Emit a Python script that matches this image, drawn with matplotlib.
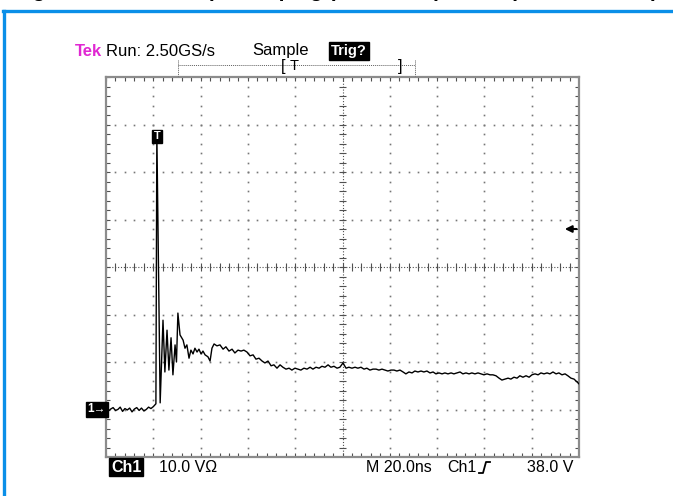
import matplotlib.pyplot as plt
import numpy as np
from matplotlib.lines import Line2D

# scope settings (from the screen readout)
ns_per_div = 20.0
volts_per_div = 10.0
trigger_level = 38.0
ground_level = 0.0

# captured trace, time in ns from left edge, voltage in V
t_ns = [0, 1, 2, 3, 4, 5, 6, 7, 8, 9, 10, 11, 12, 13, 14, 15, 16, 17, 18, 19,
        20.0, 20.7, 21.1, 21.5, 22.9, 24.1, 24.9, 25.8, 26.6, 27.5, 28.3, 29.2,
        29.8, 30.4, 31.3, 32.6, 33.4, 34.2, 35.1, 35.9, 36.8, 37.6, 38.5, 39.3,
        40.2, 41.0, 41.9, 43.1, 44.0, 44.8, 45.7, 46.9, 48.2, 49.5, 50.7, 52.0,
        53.3, 54.5, 55.8, 57.1, 58.3, 59.6, 60.9, 62.2, 63.4, 64.7, 66.0, 67.2,
        68.5, 69.8, 71.0, 72.3, 73.6, 74.8, 76.1, 77.4, 78.6, 79.9, 81.2, 82.4,
        83.7, 85.0, 86.3, 87.5, 88.8, 90.1, 91.3, 92.6, 93.9, 95.1, 96.4, 97.7,
        98.9, 100.2, 101.5, 102.7, 104.0, 105.3, 106.5, 107.8, 109.1, 110.3,
        111.6, 112.9, 114.2, 115.4, 116.7, 118.0, 119.2, 120.5, 121.8, 123.0,
        124.3, 125.6, 126.8, 128.1, 129.4, 130.6, 131.9, 133.2, 134.4, 135.7,
        137.0, 138.3, 139.5, 140.8, 142.1, 143.3, 144.6, 145.9, 147.1, 148.4,
        149.7, 150.9, 152.2, 153.5, 154.7, 156.0, 157.3, 158.6, 159.8, 161.1,
        162.4, 163.6, 164.9, 166.2, 167.4, 168.7, 170.0, 171.2, 172.5, 173.8,
        175.0, 176.3, 177.6, 178.9, 180.1, 181.4, 182.7, 183.9, 185.2, 186.5,
        187.7, 189.0, 190.3, 191.5, 192.8, 194.1, 195.3, 196.6, 197.9, 199.2,
        200.0]
v_volts = [0.2, -0.3, 0.1, 0.4, -0.2, 0.0, 0.5, -0.4, 0.2, -0.1, 0.3, -0.5, 0.1,
           0.4, -0.2, 0.3, -0.3, 0.0, 0.5, 0.2,
           0.6, 1.0, 1.2, 58.0, 1.4, 18.8, 7.9, 16.7, 8.3, 15.1, 7.3, 13.6,
           10.0, 20.3, 15.7, 14.6, 12.9, 13.6, 10.8, 12.5, 11.7, 12.9, 12.1, 12.7,
           11.7, 12.3, 11.5, 11.1, 10.2, 12.9, 13.8, 13.4, 13.6, 12.7, 13.2, 12.3,
           12.7, 11.9, 12.5, 12.3, 12.5, 12.1, 11.3, 11.5, 10.6, 10.8, 10.2, 9.8,
           10.2, 9.2, 9.4, 8.7, 9.4, 8.9, 8.5, 8.7, 8.3, 8.7, 8.5, 8.3,
           8.7, 8.5, 8.9, 8.5, 8.9, 8.7, 9.1, 8.9, 9.4, 8.9, 9.1, 8.7,
           8.9, 9.8, 8.7, 8.9, 8.7, 8.9, 8.7, 8.9, 8.5, 8.7,
           8.3, 8.5, 8.5, 8.3, 8.5, 8.3, 8.1, 8.3, 8.3, 8.1,
           8.3, 7.9, 7.5, 7.9, 7.7, 8.1, 7.9, 8.1, 7.9, 8.1,
           7.7, 7.9, 7.5, 7.7, 7.5, 7.7, 7.5, 7.7, 7.5, 7.7,
           7.9, 7.5, 7.7, 7.5, 7.7, 7.5, 7.7, 7.5, 7.3, 7.5,
           7.3, 7.3, 7.1, 6.6, 6.2, 6.4, 6.6, 6.4, 6.8, 6.6,
           7.1, 6.8, 7.1, 6.8, 7.3, 7.5, 7.3, 7.7, 7.5, 7.7,
           7.5, 7.9, 7.5, 7.7, 7.3, 7.5, 7.1, 6.6, 6.4, 5.8,
           5.4]

header = ['Tek', 'Run: 2.50GS/s', 'Sample', 'Trig?']
footer = ['Ch1', '10.0 V\u03a9', 'M 20.0ns', 'Ch1', '38.0 V']

W, H = 673, 496


def fx(x):
    return x / W


def fy(y):
    return 1 - y / H


plt.rcParams['font.family'] = ['Liberation Sans', 'DejaVu Sans']
fig = plt.figure(figsize=(W / 100, H / 100), dpi=100)

# screen
ax = fig.add_axes([fx(106), fy(457), (579 - 106) / W, (457 - 77) / H])
x0, x1 = 0, 10 * ns_per_div
y0 = ground_level - volts_per_div
y1 = y0 + 8 * volts_per_div
ax.set_xlim(x0, x1)
ax.set_ylim(y0, y1)
ax.set_xticks([])
ax.set_yticks([])
for s in ax.spines.values():
    s.set_color('#8c8c8c')
    s.set_linewidth(1.6)

# graticule dots
xc = (x0 + x1) / 2
yc = (y0 + y1) / 2
gx = np.arange(x0, x1 + 0.01, ns_per_div / 5)
gy = np.arange(y0, y1 + 0.01, volts_per_div / 5)
dot = dict(ls='none', marker='s', ms=1.2, color='#767676', mew=0)
for k in range(1, 10):
    xv = x0 + k * ns_per_div
    if k != 5:
        ax.plot(np.full(len(gy), xv), gy, **dot)
for k in range(1, 8):
    yv = y0 + k * volts_per_div
    if k != 4:
        ax.plot(gx, np.full(len(gx), yv), **dot)

# centre crosshair with minor ticks
ax.axvline(xc, ls=(0, (1, 1.6)), lw=0.8, color='#505050')
ax.axhline(yc, ls=(0, (1, 1.6)), lw=0.8, color='#505050')
tx = ns_per_div * 0.08
ty = volts_per_div * 0.08
ax.vlines(gx, yc - ty, yc + ty, color='#505050', lw=0.8)
ax.hlines(gy, xc - tx, xc + tx, color='#505050', lw=0.8)
# edge ticks
ax.vlines(gx, y1 - ty, y1, color='#505050', lw=0.8)
ax.vlines(gx, y0, y0 + ty, color='#505050', lw=0.8)
ax.hlines(gy, x0, x0 + tx, color='#505050', lw=0.8)
ax.hlines(gy, x1 - tx, x1, color='#505050', lw=0.8)

# waveform
ax.plot(t_ns, v_volts, color='black', lw=1.0, zorder=5)

# trigger level arrow on the right
ax.annotate('', xy=(x1 - 0.3 * ns_per_div, trigger_level), xytext=(x1 - 0.05 * ns_per_div, trigger_level),
            arrowprops=dict(arrowstyle='-|>', color='black', lw=1.5, mutation_scale=10,
                            shrinkA=0, shrinkB=0),
            annotation_clip=False, zorder=6)

# trigger position marker "T"
trig_t = t_ns[v_volts.index(max(v_volts))]
ax.text(trig_t, 57.5, 'T', color='white', fontsize=8, fontweight='bold',
        ha='center', va='center', zorder=7,
        bbox=dict(boxstyle='square,pad=0.15', fc='black', ec='black'))

# ground marker on the left
ax.text(x0, ground_level, '1\u2192', color='white', fontsize=8.5, fontweight='bold',
        ha='right', va='center', zorder=7, clip_on=False,
        bbox=dict(boxstyle='square,pad=0.15', fc='black', ec='black'))

# header readout
ty_h = fy(51)
fig.text(fx(75), ty_h, header[0], color='#e028d2', fontsize=12, fontweight='bold', va='center')
fig.text(fx(106), ty_h, header[1], color='black', fontsize=12, va='center')
fig.text(fx(252), ty_h, header[2], color='black', fontsize=12, va='center')
fig.text(fx(331), ty_h, header[3], color='white', fontsize=10.5, fontweight='bold', va='center',
         bbox=dict(boxstyle='square,pad=0.12', fc='black', ec='black'))

# record view bracket
fig.add_artist(Line2D([fx(178), fx(415)], [fy(65), fy(65)], ls=(0, (1, 1)), lw=0.7, color='#606060'))
fig.add_artist(Line2D([fx(178), fx(178)], [fy(60), fy(76)], ls=(0, (1, 1)), lw=0.7, color='#606060'))
fig.add_artist(Line2D([fx(415), fx(415)], [fy(60), fy(76)], ls=(0, (1, 1)), lw=0.7, color='#606060'))
fig.text(fx(281), fy(67), '[', fontsize=12, va='center')
fig.text(fx(290), fy(66), 'T', fontsize=10.5, va='center')
fig.text(fx(398), fy(67), ']', fontsize=12, va='center')

# footer readout
ty_f = fy(467)
fig.text(fx(111), ty_f, footer[0], color='white', fontsize=11.5, fontweight='bold', va='center',
         bbox=dict(boxstyle='square,pad=0.1', fc='black', ec='black'))
fig.text(fx(159), ty_f, footer[1], color='black', fontsize=11.5, va='center')
fig.text(fx(366), ty_f, footer[2], color='black', fontsize=11.5, va='center')
fig.text(fx(447), ty_f, footer[3], color='black', fontsize=11.5, va='center')
fig.add_artist(Line2D([fx(479), fx(483), fx(486), fx(490)],
                      [fy(473), fy(473), fy(462), fy(462)], lw=1.3, color='black'))
fig.text(fx(527), ty_f, footer[4], color='black', fontsize=11.5, va='center')

# page frame and cropped caption
fig.add_artist(Line2D([fx(4), fx(4)], [fy(11), 0], lw=2.4, color='#0a8fe8'))
fig.add_artist(Line2D([fx(3), 1], [fy(11), fy(11)], lw=2.4, color='#0a8fe8'))
fig.text(fx(14), fy(-3), 'Figure 9. Load Dump Clamping (TVS Clamped Output Waveform)',
         fontsize=15, fontweight='bold', va='baseline')

fig.savefig('out.png', dpi=100)
